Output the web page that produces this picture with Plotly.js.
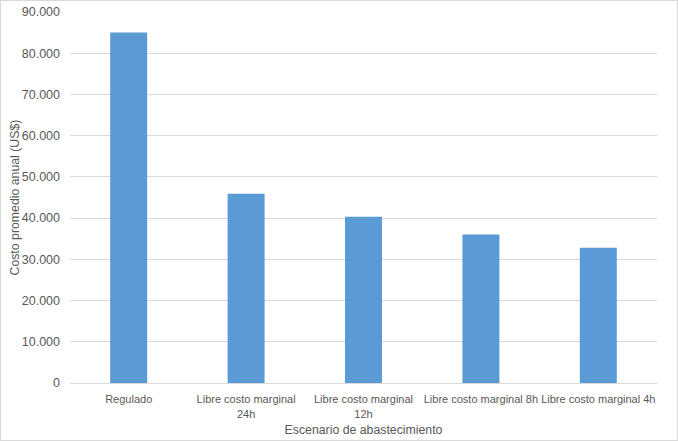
<!DOCTYPE html>
<html>
<head>
<meta charset="utf-8">
<script src="https://cdn.plot.ly/plotly-3.0.1.min.js"></script>
<style>
html,body{margin:0;padding:0;background:#fff;}
#chart{position:absolute;left:0;top:0;width:676px;height:439px;border:1px solid #d9d9d9;}
</style>
</head>
<body>
<div id="chart"></div>
<script>
var categories = ["Regulado", "Libre costo marginal<br>24h", "Libre costo marginal<br>12h", "Libre costo marginal 8h", "Libre costo marginal 4h"];
var costs = [85000, 45900, 40300, 36000, 32800];
var yTicks = [0, 10000, 20000, 30000, 40000, 50000, 60000, 70000, 80000, 90000];
var xTitle = "Escenario de abastecimiento";
var yTitle = "Costo promedio anual (US$)";

var font = "Liberation Sans, Arial, sans-serif";
var data = [{
  type: "bar",
  x: categories,
  y: costs,
  marker: {color: "#5b9bd5"},
  hoverinfo: "x+y"
}];
var layout = {
  width: 676, height: 439,
  margin: {l: 69, r: 20, t: 11, b: 57},
  paper_bgcolor: "#fff", plot_bgcolor: "#fff",
  separators: ",.",
  bargap: 0.685,
  showlegend: false,
  font: {family: font, size: 12, color: "#595959"},
  xaxis: {
    type: "category",
    showgrid: false,
    showline: true, linecolor: "#d9d9d9", linewidth: 1,
    ticks: "", tickangle: 0,
    ticklabelstandoff: 6,
    tickfont: {family: font, size: 11, color: "#595959"},
    title: {text: xTitle, font: {family: font, size: 12.3, color: "#595959"}, standoff: 6}
  },
  yaxis: {
    range: [0, 90000],
    tickvals: yTicks,
    tickformat: ",",
    showgrid: true, gridcolor: "#d9d9d9", gridwidth: 1,
    zeroline: false, showline: false,
    ticks: "",
    ticklabelstandoff: 9,
    tickfont: {family: font, size: 12.5, color: "#595959"}
  },
  annotations: [{
    text: yTitle,
    xref: "paper", yref: "paper",
    x: 0, y: 0.5,
    xanchor: "center", yanchor: "middle",
    xshift: -56,
    textangle: -90,
    showarrow: false,
    font: {family: font, size: 12.3, color: "#595959"}
  }]
};
Plotly.newPlot("chart", data, layout, {displayModeBar: false, staticPlot: true});
</script>
</body>
</html>
